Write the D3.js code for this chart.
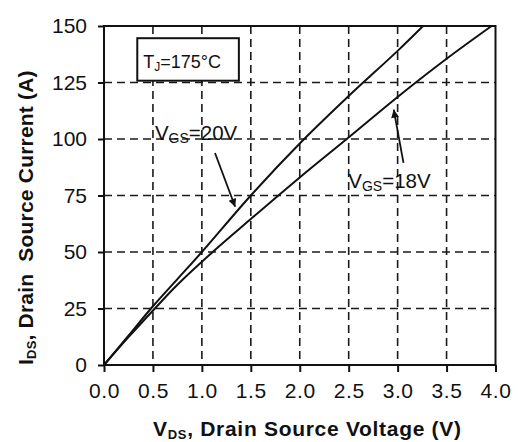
<!DOCTYPE html>
<html>
<head>
<meta charset="utf-8">
<script src="https://cdn.jsdelivr.net/npm/d3@7"></script>
<style>
  body { margin: 0; background: #fff; }
  svg { display: block; font-family: "Liberation Sans", Arial, sans-serif; }
</style>
</head>
<body>
<svg id="canvas" width="519" height="442"></svg>
<script>
// data
var vds20 = [0, 0.25, 0.5, 0.75, 1.0, 1.5, 2.0, 2.5, 3.0, 3.26];
var id20  = [0, 13, 26, 38, 50, 75, 98, 119, 139, 150];
var vds18 = [0, 0.25, 0.52, 0.75, 1.11, 1.5, 2.0, 2.48, 3.0, 3.5, 3.96];
var id18  = [0, 12.3, 25, 35.5, 50, 64.6, 83, 100, 118.6, 135.5, 150];
var xTicks = [0, 0.5, 1, 1.5, 2, 2.5, 3, 3.5, 4];
var yTicks = [0, 25, 50, 75, 100, 125, 150];

var svg = d3.select('#canvas');
var ink = '#111';

var x = d3.scaleLinear().domain([0, 4]).range([104, 495.5]);
var y = d3.scaleLinear().domain([0, 150]).range([365, 26]);

// ************************************************************************************** //
// Grid

var grid = svg.append('g').attr('stroke', '#1a1a1a').attr('stroke-width', 1.6).attr('stroke-dasharray', '8,5');
grid.selectAll('line.v').data(xTicks.slice(1, -1)).join('line')
  .attr('x1', d => x(d)).attr('x2', d => x(d)).attr('y1', y(150)).attr('y2', y(0));
grid.selectAll('line.h').data(yTicks.slice(1, -1)).join('line')
  .attr('y1', d => y(d)).attr('y2', d => y(d)).attr('x1', x(0)).attr('x2', x(4));

// frame
svg.append('rect').attr('x', x(0)).attr('y', y(150)).attr('width', x(4) - x(0)).attr('height', y(0) - y(150))
  .attr('fill', 'none').attr('stroke', ink).attr('stroke-width', 2);

// ************************************************************************************** //
// Axes

var xAxis = svg.append('g').attr('transform', 'translate(0,' + y(0) + ')')
  .call(d3.axisBottom(x).tickValues(xTicks).tickFormat(d3.format('.1f')).tickSize(7).tickPadding(11));
var yAxis = svg.append('g').attr('transform', 'translate(' + x(0) + ',0)')
  .call(d3.axisLeft(y).tickValues(yTicks).tickSize(6).tickPadding(11));
[xAxis, yAxis].forEach(function(a){
  a.select('.domain').remove();
  a.selectAll('line').attr('stroke', ink).attr('stroke-width', 2);
  a.selectAll('text').attr('fill', ink).style('font-size', '21px');
});
xAxis.selectAll('text').style('letter-spacing', '0.6px');

// ************************************************************************************** //
// Curves

var lineGen = d3.line().x(d => x(d[0])).y(d => y(d[1])).curve(d3.curveCatmullRom.alpha(0.5));
svg.append('path').attr('d', lineGen(vds20.map((d, i) => [d, id20[i]])))
  .attr('fill', 'none').attr('stroke', ink).attr('stroke-width', 2);
svg.append('path').attr('d', lineGen(vds18.map((d, i) => [d, id18[i]])))
  .attr('fill', 'none').attr('stroke', ink).attr('stroke-width', 2);

// ************************************************************************************** //
// Annotations

svg.append('defs').append('marker').attr('id', 'arrow').attr('viewBox', '0 0 10 10')
  .attr('refX', 10).attr('refY', 5).attr('markerWidth', 12).attr('markerHeight', 8)
  .attr('markerUnits', 'userSpaceOnUse').attr('orient', 'auto')
  .append('path').attr('d', 'M0,0L10,5L0,10z').attr('fill', ink);

function arrow(a, b){
  svg.append('line').attr('x1', x(a[0])).attr('y1', y(a[1])).attr('x2', x(b[0])).attr('y2', y(b[1]))
    .attr('stroke', ink).attr('stroke-width', 1.8).attr('marker-end', 'url(#arrow)');
}
arrow([1.134, 93.8], [1.34, 70]);
arrow([3.06, 89.4], [2.96, 113]);

function subLabel(px, py, main, sub, rest, size, subSize, shift, weight){
  var t = svg.append('text').attr('x', px).attr('y', py).attr('fill', ink)
    .style('font-size', size + 'px').style('font-weight', weight || 'normal');
  t.append('tspan').text(main);
  t.append('tspan').attr('dy', shift).style('font-size', subSize + 'px').text(sub);
  t.append('tspan').attr('dy', -shift).text(rest);
  return t;
}
subLabel(x(0.52), y(99.6), 'V', 'GS', '=20V', 20.5, 14, 3);
subLabel(x(2.496), y(78.2), 'V', 'GS', '=18V', 20.5, 14, 3);

// legend box
svg.append('rect').attr('x', x(0.34)).attr('y', y(144.6)).attr('width', x(1.378) - x(0.34)).attr('height', y(125.8) - y(144.6))
  .attr('fill', '#fff').attr('stroke', ink).attr('stroke-width', 2);
subLabel(x(0.4), y(131.6), 'T', 'J', '=175°C', 18, 12, 3);

// axis titles
subLabel(153, 436, 'V', 'DS', ', Drain Source Voltage (V)', 21, 13, 2.5, 'bold')
  .style('letter-spacing', '0.7px');
var yt = subLabel(0, 0, 'I', 'DS', ', Drain  Source Current (A)', 21, 13, 2.5, 'bold')
  .style('white-space', 'pre').style('letter-spacing', '0.2px');
yt.attr('transform', 'translate(33,365) rotate(-90)');
</script>
</body>
</html>
